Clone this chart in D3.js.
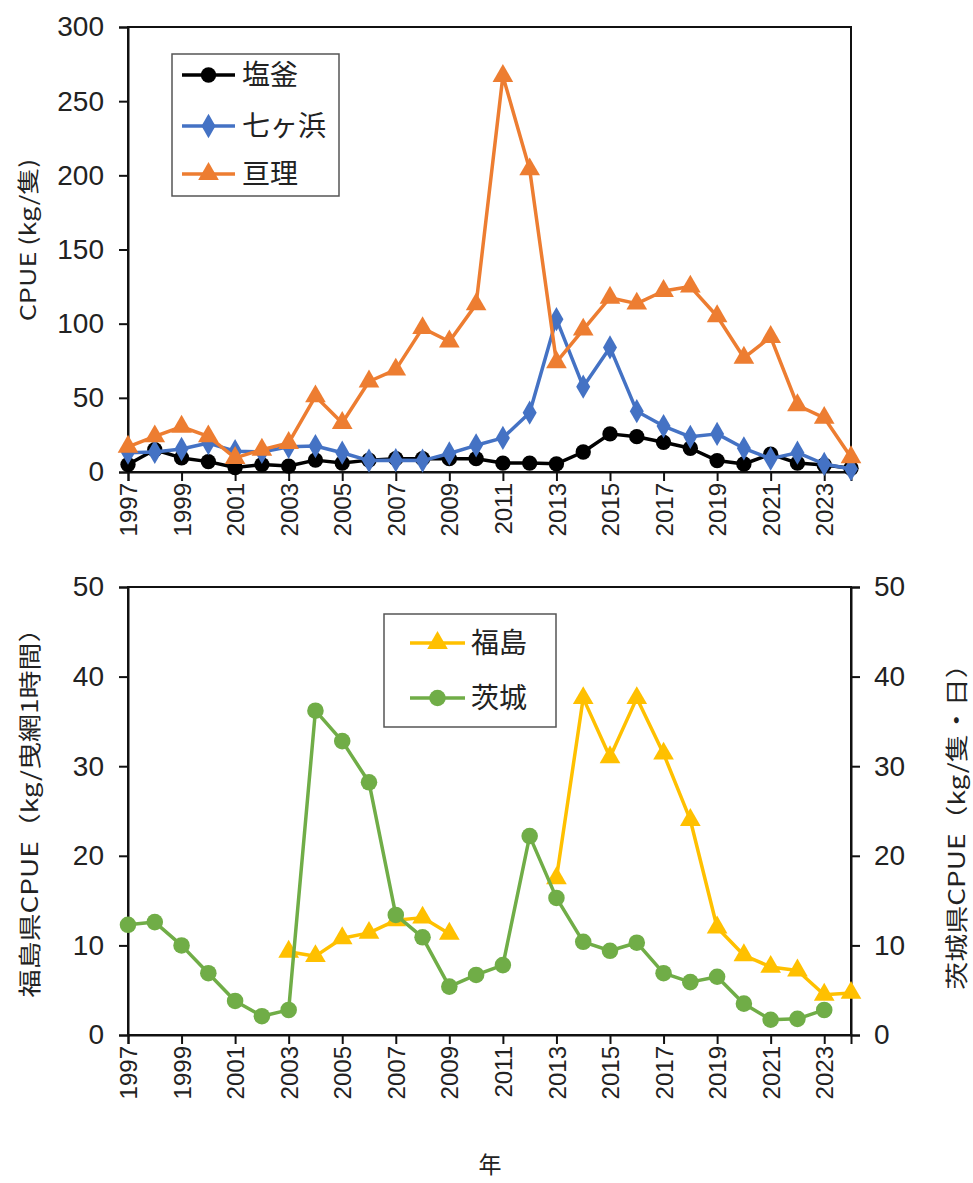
<!DOCTYPE html>
<html>
<head>
<meta charset="utf-8">
<script src="https://cdn.jsdelivr.net/npm/d3@7"></script>
<style>
  html, body { margin: 0; padding: 0; background: #fff; }
  svg { display: block; }
  .num { font-family: "Liberation Sans", Arial, sans-serif; fill: #222; }
  .jp { font-family: "Noto Sans CJK JP", "Noto Sans", sans-serif; fill: #222; }
</style>
</head>
<body>
<svg id="chart" width="973" height="1183"></svg>
<script>
// Years on the x axis
const years = [1997, 1998, 1999, 2000, 2001, 2002, 2003, 2004, 2005, 2006,
  2007, 2008, 2009, 2010, 2011, 2012, 2013, 2014, 2015, 2016,
  2017, 2018, 2019, 2020, 2021, 2022, 2023, 2024];
const yearTicks = [1997, 1999, 2001, 2003, 2005, 2007, 2009, 2011, 2013, 2015,
  2017, 2019, 2021, 2023];

// Miyagi ports, CPUE (kg/隻)
const shiogama = [5, 15, 9.5, 7, 3, 5, 4, 8, 6, 8, 9, 9, 9, 9, 6, 6, 5.5, 13.5,
  25.7, 23.8, 20, 16, 7.7, 5.4, 12, 6, 4.7, 2.5];
const shichigahama = [13, 13.5, 15.5, 19.5, 14, 13.5, 17, 17.5, 13, 7.7, 8, 7.7,
  12.5, 18, 23, 40, 103, 57.5, 84, 41, 31, 23.7, 25.7, 16, 9, 13, 5.4, 2];
const watari = [17, 24, 30.5, 24, 9.5, 15, 19.6, 51, 33, 61, 69, 97, 88, 113,
  267, 204, 74, 96, 117.5, 113.5, 122, 125, 105, 77, 91, 45, 36.5, 10];

// Fukushima (kg/曳網1時間) and Ibaraki (kg/隻・日)
const fukushima = [null, null, null, null, null, null, 9.3, 8.8, 10.8, 11.4,
  12.8, 13.1, 11.3, null, null, null, 17.5, 37.6, 31.0, 37.6, 31.4, 24.0,
  12.0, 8.9, 7.6, 7.2, 4.5, 4.7];
const ibaraki = [12.3, 12.6, 10, 6.9, 3.8, 2.1, 2.8, 36.2, 32.8, 28.2, 13.4,
  10.9, 5.4, 6.7, 7.8, 22.2, 15.3, 10.4, 9.4, 10.3, 6.9, 5.9, 6.5, 3.5, 1.7,
  1.8, 2.8, null];

const topTicks = [0, 50, 100, 150, 200, 250, 300];
const bottomTicks = [0, 10, 20, 30, 40, 50];

const svg = d3.select("#chart");

const x = d3.scaleLinear().domain([1997, 2024]).range([128, 851]);
const yTop = d3.scaleLinear().domain([0, 300]).range([472, 27]);
const yBot = d3.scaleLinear().domain([0, 50]).range([1035, 587]);

const symbolFor = {
  circle: d3.symbol().type(d3.symbolCircle).size(185),
  diamond: d3.symbol().type(d3.symbolDiamond).size(170),
  triangle: d3.symbol().type(d3.symbolTriangle).size(185),
  circleBig: d3.symbol().type(d3.symbolCircle).size(215)
};

function frame(g, top, bottom) {
  // plot box
  g.append("rect")
    .attr("x", x.range()[0]).attr("y", top)
    .attr("width", x.range()[1] - x.range()[0]).attr("height", bottom - top)
    .attr("fill", "none").attr("stroke", "#111").attr("stroke-width", 2);
}

function styleAxis(a) {
  a.select(".domain").attr("stroke", "#111").attr("stroke-width", 2);
  a.selectAll(".tick line").attr("stroke", "#111").attr("stroke-width", 2);
}

function yAxisLeft(g, y, ticks) {
  const ax = d3.axisLeft(y).tickValues(ticks).tickSize(9).tickPadding(15);
  const a = g.append("g").attr("transform", `translate(${x.range()[0]},0)`).call(ax);
  styleAxis(a);
  a.selectAll(".tick text").attr("class", "num").style("font-size", "28px").attr("fill", "#222");
}

function yAxisRight(g, y, ticks) {
  const ax = d3.axisRight(y).tickValues(ticks).tickSize(9).tickPadding(14);
  const a = g.append("g").attr("transform", `translate(${x.range()[1]},0)`).call(ax);
  styleAxis(a);
  a.selectAll(".tick text").attr("class", "num").style("font-size", "28px").attr("fill", "#222");
}

function xAxis(g, y0) {
  const ax = d3.axisBottom(x).tickValues(yearTicks).tickSize(9).tickFormat(d3.format("d"));
  const a = g.append("g").attr("transform", `translate(0,${y0})`).call(ax);
  styleAxis(a);
  a.selectAll(".tick text")
    .attr("class", "num").style("font-size", "24px").attr("fill", "#222")
    .attr("text-anchor", "end")
    .attr("transform", "translate(0,11) rotate(-90)")
    .attr("x", 0).attr("y", 0).attr("dy", "0.36em");
}

function series(g, y, values, color, sym, lw) {
  const pts = years.map((yr, i) => ({ yr, v: values[i] }));
  const line = d3.line()
    .defined(d => d.v !== null)
    .x(d => x(d.yr)).y(d => y(d.v));
  g.append("path").datum(pts)
    .attr("d", line).attr("fill", "none")
    .attr("stroke", color).attr("stroke-width", lw).attr("stroke-linejoin", "round");
  g.selectAll(null).data(pts.filter(d => d.v !== null)).enter()
    .append("path")
    .attr("d", symbolFor[sym])
    .attr("transform", d => `translate(${x(d.yr)},${y(d.v)})`)
    .attr("fill", color);
}

function legend(g, box, items) {
  g.append("rect")
    .attr("x", box.x).attr("y", box.y).attr("width", box.w).attr("height", box.h)
    .attr("fill", "#fff").attr("stroke", "#555").attr("stroke-width", 1.5);
  items.forEach(it => {
    g.append("line")
      .attr("x1", box.lx0).attr("x2", box.lx1).attr("y1", it.y).attr("y2", it.y)
      .attr("stroke", it.color).attr("stroke-width", 3.5);
    g.append("path")
      .attr("d", symbolFor[it.sym])
      .attr("transform", `translate(${(box.lx0 + box.lx1) / 2},${it.y})`)
      .attr("fill", it.color);
    g.append("text")
      .attr("class", "jp").attr("x", box.tx).attr("y", it.y).attr("dy", "0.36em")
      .style("font-size", "28px").text(it.label);
  });
}

// vertical axis title, slightly condensed across the reading direction
function vTitle(g, cx, cy, size, label) {
  g.append("text").attr("class", "jp")
    .attr("transform", `translate(${cx},${cy}) rotate(-90) scale(1,0.8)`)
    .attr("text-anchor", "middle").attr("dy", "0.36em")
    .style("font-size", size + "px").text(label);
}

// ---------- upper panel: Miyagi ----------
const gTop = svg.append("g");
frame(gTop, 27, 472);
yAxisLeft(gTop, yTop, topTicks);
xAxis(gTop, 472);
series(gTop, yTop, shiogama, "#000000", "circle", 3.5);
series(gTop, yTop, shichigahama, "#4472C4", "diamond", 3.5);
series(gTop, yTop, watari, "#ED7D31", "triangle", 3.5);

vTitle(gTop, 28, 240, 27, "CPUE (kg/隻)");

legend(gTop, { x: 172, y: 54, w: 167, h: 142, lx0: 182, lx1: 235, tx: 242 }, [
  { y: 75, color: "#000000", sym: "circle", label: "塩釜" },
  { y: 126, color: "#4472C4", sym: "diamond", label: "七ヶ浜" },
  { y: 174, color: "#ED7D31", sym: "triangle", label: "亘理" }
]);

// ---------- lower panel: Fukushima / Ibaraki ----------
const gBot = svg.append("g");
frame(gBot, 587, 1035);
yAxisLeft(gBot, yBot, bottomTicks);
yAxisRight(gBot, yBot, bottomTicks);
xAxis(gBot, 1035);
series(gBot, yBot, fukushima, "#FFC000", "triangle", 3.5);
series(gBot, yBot, ibaraki, "#70AD47", "circleBig", 3.5);

vTitle(gBot, 30, 806, 28, "福島県CPUE（kg/曳網1時間）");
vTitle(gBot, 957, 820, 28, "茨城県CPUE（kg/隻・日）");

legend(gBot, { x: 384, y: 614, w: 172, h: 113, lx0: 410, lx1: 465, tx: 471 }, [
  { y: 643, color: "#FFC000", sym: "triangle", label: "福島" },
  { y: 698, color: "#70AD47", sym: "circleBig", label: "茨城" }
]);

svg.append("text").attr("class", "jp")
  .attr("x", 490).attr("y", 1165).attr("text-anchor", "middle").attr("dy", "0.36em")
  .style("font-size", "23px").text("年");
</script>
</body>
</html>
